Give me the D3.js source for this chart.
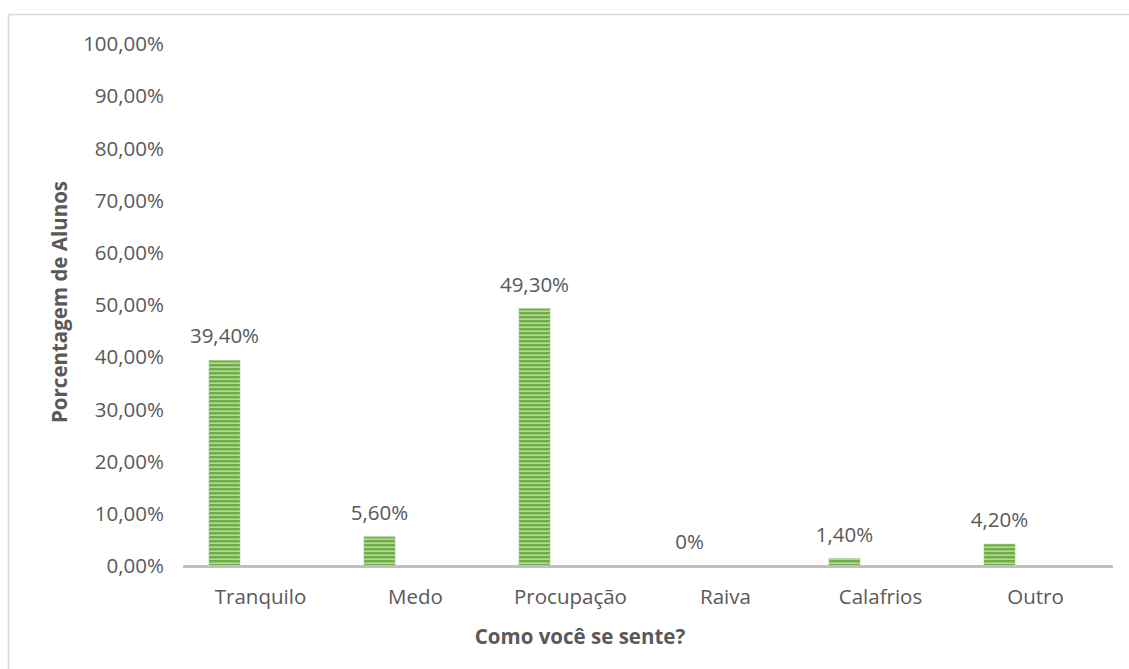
<!DOCTYPE html>
<html>
<head>
<meta charset="utf-8">
<script src="https://cdn.jsdelivr.net/npm/d3@7"></script>
<style>
  body { margin: 0; background: #fff; }
  svg text { font-family: "Open Sans", Lato, sans-serif; fill: #595959; }
</style>
</head>
<body>
<div id="chart"></div>
<script>
const categories = ["Tranquilo", "Medo", "Procupação", "Raiva", "Calafrios", "Outro"];
const values = [39.4, 5.6, 49.3, 0, 1.4, 4.2];
const valueLabels = ["39,40%", "5,60%", "49,30%", "0%", "1,40%", "4,20%"];
const yTicks = [0, 10, 20, 30, 40, 50, 60, 70, 80, 90, 100];

const width = 1129;
const height = 669;
const fontSize = "20.5px";

const svg = d3.select("#chart").append("svg")
    .attr("width", width)
    .attr("height", height);

// chart frame (runs off the right and bottom edges)
svg.append("rect")
    .attr("x", 8.5)
    .attr("y", 14.5)
    .attr("width", 1130)
    .attr("height", 700)
    .attr("fill", "none")
    .attr("stroke", "#d9d9d9")
    .attr("stroke-width", 1.5);

// striped fill like the original
const defs = svg.append("defs");
const pat = defs.append("pattern")
    .attr("id", "stripes")
    .attr("patternUnits", "userSpaceOnUse")
    .attr("width", 8)
    .attr("height", 4);
pat.append("rect").attr("width", 8).attr("height", 4).attr("fill", "#b4d89b");
pat.append("rect").attr("y", 0).attr("width", 8).attr("height", 2.4).attr("fill", "#6fae46");

const x = d3.scaleBand()
    .domain(categories)
    .range([183, 1113]);

const y = d3.scaleLinear()
    .domain([0, 100])
    .range([566, 44]);

const barWidth = 31;
const barOffset = -36; // bars sit left of the category centre

// y tick labels
svg.append("g")
    .selectAll("text")
    .data(yTicks)
    .enter().append("text")
    .attr("x", 164)
    .attr("y", d => y(d))
    .attr("dy", "0.35em")
    .attr("text-anchor", "end")
    .style("font-size", fontSize)
    .text(d => d.toFixed(2).replace(".", ",") + "%");

// bars
svg.append("g")
    .selectAll("rect")
    .data(values)
    .enter().append("rect")
    .attr("x", (d, i) => x(categories[i]) + x.bandwidth() / 2 + barOffset - barWidth / 2)
    .attr("y", d => y(d))
    .attr("width", barWidth)
    .attr("height", d => y(0) - y(d))
    .attr("fill", "url(#stripes)")
    .attr("stroke", "#9fcc86")
    .attr("stroke-width", 0.6);

// value labels
svg.append("g")
    .selectAll("text")
    .data(values)
    .enter().append("text")
    .attr("x", (d, i) => x(categories[i]) + x.bandwidth() / 2 + barOffset)
    .attr("y", d => y(d) - 17)
    .attr("text-anchor", "middle")
    .style("font-size", fontSize)
    .text((d, i) => valueLabels[i]);

// baseline
svg.append("line")
    .attr("x1", 183)
    .attr("x2", 1113)
    .attr("y1", y(0) + 0.5)
    .attr("y2", y(0) + 0.5)
    .attr("stroke", "#bfbfbf")
    .attr("stroke-width", 3);

// category labels
svg.append("g")
    .selectAll("text")
    .data(categories)
    .enter().append("text")
    .attr("x", d => x(d) + x.bandwidth() / 2)
    .attr("y", 597)
    .attr("dy", "0.35em")
    .attr("text-anchor", "middle")
    .style("font-size", fontSize)
    .text(d => d);

// axis titles
svg.append("text")
    .attr("x", 580)
    .attr("y", 637)
    .attr("dy", "0.35em")
    .attr("text-anchor", "middle")
    .style("font-size", fontSize)
    .style("font-weight", "bold")
    .text("Como você se sente?");

svg.append("text")
    .attr("transform", "translate(60,302) rotate(-90)")
    .attr("dy", "0.35em")
    .attr("text-anchor", "middle")
    .style("font-size", fontSize)
    .style("font-weight", "bold")
    .text("Porcentagem de Alunos");
</script>
</body>
</html>
